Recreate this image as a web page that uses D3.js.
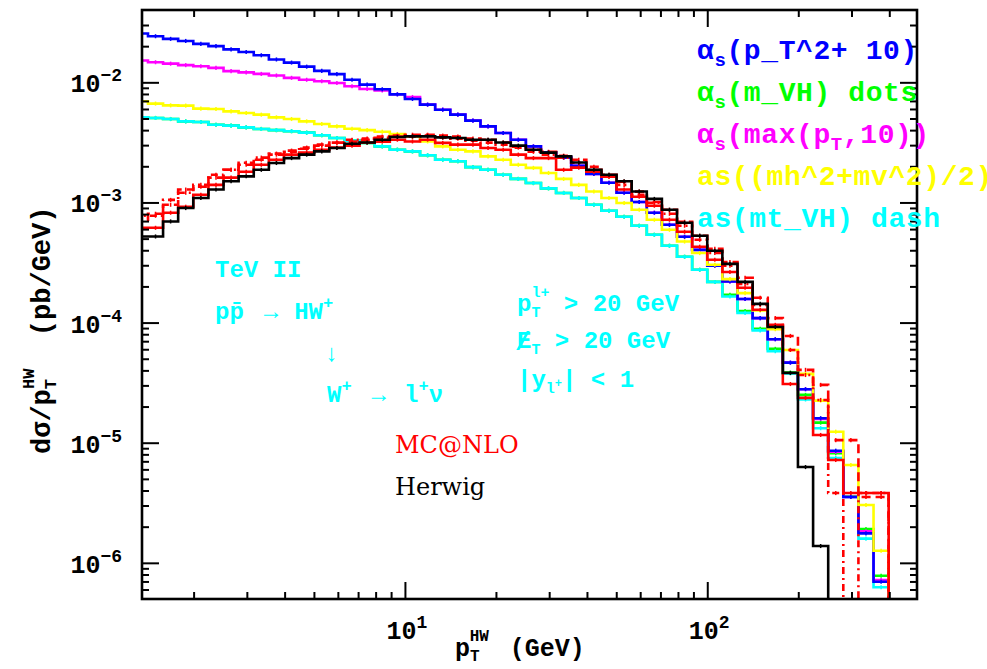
<!DOCTYPE html>
<html>
<head>
<meta charset="utf-8">
<script src="https://cdn.jsdelivr.net/npm/d3@7/dist/d3.min.js"></script>
<style>
    body { margin: 0; background: #fff; }
    svg text { font-family: 'Liberation Mono', 'DejaVu Sans Mono', monospace; }
</style>
</head>
<body>
<div id="chart"></div>
<script>
// bin edges of the pT(HW) histogram (GeV)
const binEdges = [1.259, 1.413, 1.585, 1.778, 1.995, 2.239, 2.512, 2.818, 3.162, 3.548,
    3.981, 4.467, 5.012, 5.623, 6.310, 7.079, 7.943, 8.913, 10.00, 11.22,
    12.59, 14.13, 15.85, 17.78, 19.95, 22.39, 25.12, 28.18, 31.62, 35.48,
    39.81, 44.67, 50.12, 56.23, 63.10, 70.79, 79.43, 89.13, 100.0, 112.2,
    125.9, 141.3, 158.5, 177.8, 199.5, 223.9, 251.2, 281.8, 316.2, 354.8, 398.1];

// dsigma/dpT (pb/GeV), one value per bin, null = empty bin
const asPt2Plus10 = [2.55e-2, 2.42e-2, 2.30e-2, 2.21e-2, 2.09e-2, 2.00e-2, 1.88e-2, 1.79e-2, 1.68e-2, 1.55e-2,
    1.46e-2, 1.35e-2, 1.245e-2, 1.17e-2, 1.05e-2, 9.57e-3, 8.75e-3, 7.94e-3, 7.27e-3, 6.52e-3,
    5.92e-3, 5.38e-3, 4.80e-3, 4.30e-3, 3.79e-3, 3.33e-3, 2.93e-3, 2.62e-3, 2.36e-3, 2.02e-3,
    1.73e-3, 1.46e-3, 1.205e-3, 1.01e-3, 8.21e-4, 6.52e-4, 5.18e-4, 4.03e-4, 2.97e-4, 2.20e-4,
    1.57e-4, 1.09e-4, 7.27e-5, 4.64e-5, 2.79e-5, 1.60e-5, 8.58e-6, 3.53e-6, 1.76e-6, 6.95e-7];

const asMVH = [5.11e-3, 5.05e-3, 4.95e-3, 4.73e-3, 4.68e-3, 4.44e-3, 4.36e-3, 4.22e-3, 4.09e-3, 4.00e-3,
    3.92e-3, 3.81e-3, 3.63e-3, 3.44e-3, 3.27e-3, 3.13e-3, 2.93e-3, 2.75e-3, 2.66e-3, 2.47e-3,
    2.27e-3, 2.20e-3, 1.97e-3, 1.87e-3, 1.70e-3, 1.57e-3, 1.45e-3, 1.31e-3, 1.20e-3, 1.09e-3,
    9.57e-4, 8.53e-4, 7.60e-4, 6.40e-4, 5.38e-4, 4.36e-4, 3.53e-4, 2.75e-4, 2.18e-4, 1.70e-4,
    1.25e-4, 8.86e-5, 6.04e-5, 3.83e-5, 2.50e-5, 1.47e-5, 8.17e-6, 3.56e-6, 1.91e-6, 7.80e-7];

const asMaxPt10 = [1.52e-2, 1.47e-2, 1.43e-2, 1.39e-2, 1.36e-2, 1.32e-2, 1.24e-2, 1.21e-2, 1.175e-2, 1.14e-2,
    1.09e-2, 1.05e-2, 1.02e-2, 9.88e-3, 9.27e-3, 8.81e-3, 8.55e-3, 7.95e-3, 7.55e-3, 6.52e-3,
    5.92e-3, 5.38e-3, 4.80e-3, 4.30e-3, 3.79e-3, 3.33e-3, 2.93e-3, 2.62e-3, 2.36e-3, 2.02e-3,
    1.73e-3, 1.46e-3, 1.205e-3, 1.01e-3, 8.21e-4, 6.52e-4, 5.18e-4, 4.03e-4, 2.97e-4, 2.20e-4,
    1.57e-4, 1.09e-4, 7.27e-5, 4.64e-5, 2.79e-5, 1.58e-5, 8.40e-6, 3.53e-6, 1.83e-6, 7.2e-7];

const asMhMv = [6.95e-3, 6.65e-3, 6.43e-3, 6.40e-3, 6.04e-3, 6.00e-3, 5.73e-3, 5.56e-3, 5.38e-3, 5.11e-3,
    4.95e-3, 4.73e-3, 4.50e-3, 4.30e-3, 4.11e-3, 4.00e-3, 3.88e-3, 3.715e-3, 3.55e-3, 3.22e-3,
    2.93e-3, 2.75e-3, 2.66e-3, 2.42e-3, 2.27e-3, 2.06e-3, 1.94e-3, 1.76e-3, 1.57e-3, 1.40e-3,
    1.235e-3, 1.09e-3, 9.89e-4, 8.69e-4, 7.18e-4, 5.92e-4, 4.73e-4, 3.79e-4, 3.03e-4, 2.30e-4,
    1.76e-4, 1.26e-4, 8.81e-5, 5.92e-5, 3.74e-5, 2.24e-5, 1.235e-5, 6.52e-6, 3.03e-6, 1.26e-6];

const asMtVH = [5.11e-3, 5.05e-3, 4.95e-3, 4.73e-3, 4.68e-3, 4.44e-3, 4.36e-3, 4.22e-3, 4.09e-3, 4.00e-3,
    3.92e-3, 3.81e-3, 3.63e-3, 3.44e-3, 3.27e-3, 3.13e-3, 2.93e-3, 2.75e-3, 2.66e-3, 2.47e-3,
    2.27e-3, 2.20e-3, 1.97e-3, 1.87e-3, 1.70e-3, 1.57e-3, 1.45e-3, 1.31e-3, 1.20e-3, 1.09e-3,
    9.57e-4, 8.53e-4, 7.60e-4, 6.40e-4, 5.38e-4, 4.36e-4, 3.53e-4, 2.75e-4, 2.18e-4, 1.65e-4,
    1.205e-4, 8.61e-5, 5.78e-5, 3.78e-5, 2.29e-5, 1.32e-5, 7.46e-6, 3.53e-6, 1.59e-6, 6.27e-7];

const mcnloSolid = [6.15e-4, 6.15e-4, 8.21e-4, 9.21e-4, 1.16e-3, 1.40e-3, 1.61e-3, 1.80e-3, 2.06e-3, 2.27e-3,
    2.50e-3, 2.60e-3, 2.75e-3, 2.86e-3, 2.97e-3, 3.15e-3, 3.21e-3, 3.33e-3, 3.22e-3, 3.33e-3,
    3.13e-3, 3.03e-3, 3.03e-3, 2.84e-3, 2.75e-3, 2.50e-3, 2.34e-3, 2.34e-3, 1.87e-3, 1.95e-3,
    1.80e-3, 1.64e-3, 1.28e-3, 1.115e-3, 9.39e-4, 7.18e-4, 5.70e-4, 4.28e-4, 3.33e-4, 2.64e-4,
    1.95e-4, 1.28e-4, 9.57e-5, 3.08e-5, 2.36e-5, 1.16e-5, 7.18e-6, 3.81e-6, 3.81e-6, 3.81e-6];

const mcnloDashed = [7.18e-4, 8.05e-4, 9.57e-4, 1.28e-3, 1.35e-3, 1.61e-3, 1.87e-3, 2.06e-3, 2.27e-3, 2.50e-3,
    2.70e-3, 2.80e-3, 2.97e-3, 3.15e-3, 3.21e-3, 3.33e-3, 3.46e-3, 3.53e-3, 3.66e-3, 3.66e-3,
    3.60e-3, 3.53e-3, 3.40e-3, 3.33e-3, 3.15e-3, 2.91e-3, 2.75e-3, 2.64e-3, 2.45e-3, 2.27e-3,
    1.98e-3, 1.70e-3, 1.49e-3, 1.23e-3, 1.01e-3, 8.69e-4, 6.90e-4, 5.28e-4, 4.11e-4, 3.19e-4,
    2.36e-4, 1.61e-4, 1.09e-4, 7.74e-5, 4.04e-5, 3.03e-5, 1.05e-5, 1.05e-5, 3.53e-6, 3.53e-6];

const mcnloDotDash = [7.75e-4, 7.75e-4, 1.05e-3, 1.205e-3, 1.40e-3, 1.70e-3, 1.87e-3, 2.14e-3, 2.36e-3, 2.55e-3,
    2.64e-3, 2.86e-3, 3.03e-3, 3.15e-3, 3.33e-3, 3.40e-3, 3.53e-3, 3.60e-3, 3.53e-3, 3.60e-3,
    3.46e-3, 3.40e-3, 3.27e-3, 3.15e-3, 3.03e-3, 2.86e-3, 2.64e-3, 2.50e-3, 2.36e-3, 2.14e-3,
    1.87e-3, 1.64e-3, 1.40e-3, 1.16e-3, 9.94e-4, 8.05e-4, 6.40e-4, 4.89e-4, 3.79e-4, 2.97e-4,
    2.10e-4, 1.40e-4, 9.39e-5, 5.92e-5, 3.66e-5, 2.27e-5, 3.81e-6, null, 3.81e-6, 3.81e-6];

const herwig = [5.21e-4, 5.21e-4, 6.95e-4, 8.98e-4, 1.09e-3, 1.28e-3, 1.50e-3, 1.65e-3, 1.87e-3, 2.13e-3,
    2.34e-3, 2.50e-3, 2.66e-3, 2.84e-3, 3.08e-3, 3.16e-3, 3.33e-3, 3.51e-3, 3.55e-3, 3.55e-3,
    3.48e-3, 3.44e-3, 3.33e-3, 3.33e-3, 3.16e-3, 2.97e-3, 2.75e-3, 2.60e-3, 2.42e-3, 2.15e-3,
    1.87e-3, 1.70e-3, 1.50e-3, 1.235e-3, 1.07e-3, 8.69e-4, 6.78e-4, 5.28e-4, 3.96e-4, 3.08e-4,
    2.18e-4, 1.43e-4, 9.20e-5, 3.81e-5, 6.27e-6, 1.38e-6];

// axis ticks
const xMajorTicks = [10, 100];
const xMinorTicks = [2, 3, 4, 5, 6, 7, 8, 9, 20, 30, 40, 50, 60, 70, 80, 90, 200, 300, 400];
const yMajorTicks = [1e-6, 1e-5, 1e-4, 1e-3, 1e-2];
const yMinorTicks = [6e-7, 7e-7, 8e-7, 9e-7, 2e-6, 3e-6, 4e-6, 5e-6, 6e-6, 7e-6, 8e-6, 9e-6,
    2e-5, 3e-5, 4e-5, 5e-5, 6e-5, 7e-5, 8e-5, 9e-5, 2e-4, 3e-4, 4e-4, 5e-4, 6e-4, 7e-4, 8e-4, 9e-4,
    2e-3, 3e-3, 4e-3, 5e-3, 6e-3, 7e-3, 8e-3, 9e-3, 2e-2, 3e-2];
const xTickExponents = ['1', '2'];
const yTickExponents = ['\u22126', '\u22125', '\u22124', '\u22123', '\u22122'];

const margin = { top: 10, right: 70, bottom: 70, left: 142 };
const width = 987 - margin.left - margin.right;
const height = 669 - margin.top - margin.bottom;

const svg = d3.select('#chart')
    .append('svg')
    .attr('width', 987)
    .attr('height', 669);

const x = d3.scaleLog().domain([1.35, 494]).range([0, width]);
const y = d3.scaleLog().domain([5e-7, 0.04]).range([height, 0]);

svg.append('defs')
    .append('clipPath')
    .attr('id', 'plotClip')
    .append('rect')
    .attr('width', width)
    .attr('height', height);

const plot = svg.append('g')
    .attr('transform', `translate(${margin.left},${margin.top})`);

const curves = plot.append('g').attr('clip-path', 'url(#plotClip)');

const histSeries = [
    { values: asMVH, color: '#00ff00', dash: null },
    { values: asMtVH, color: '#00ffff', dash: null },
    { values: asMaxPt10, color: '#ff00ff', dash: null },
    { values: asPt2Plus10, color: '#0000ff', dash: null },
    { values: asMhMv, color: '#ffff00', dash: null },
    { values: mcnloDotDash, color: '#ff0000', dash: '7,4,2,4' },
    { values: mcnloDashed, color: '#ff0000', dash: '9,5' },
    { values: mcnloSolid, color: '#ff0000', dash: null },
    { values: herwig, color: '#000000', dash: null }
];

const stepLine = d3.line()
    .x(d => x(d.x))
    .y(d => d.v == null ? height + 10 : y(d.v))
    .curve(d3.curveStepAfter);

histSeries.forEach(s => {
    const pts = s.values.map((v, i) => ({ x: binEdges[i], v: v }));
    pts.push({ x: binEdges[s.values.length], v: null });

    curves.append('path')
        .attr('d', stepLine(pts))
        .attr('fill', 'none')
        .attr('stroke', s.color)
        .attr('stroke-width', 2.6)
        .attr('stroke-dasharray', s.dash);

    // small error ticks at bin centres
    curves.selectAll(null)
        .data(s.values.map((v, i) => ({ v: v, c: Math.sqrt(binEdges[i] * binEdges[i + 1]) }))
            .filter(d => d.v != null))
        .enter()
        .append('line')
        .attr('x1', d => x(d.c))
        .attr('x2', d => x(d.c))
        .attr('y1', d => y(d.v * 1.04))
        .attr('y2', d => y(d.v / 1.04))
        .attr('stroke', s.color)
        .attr('stroke-width', 1.5);
});

// ticks on all four sides, pointing inwards
function drawTicks(axisFn, values, size, transform) {
    const g = plot.append('g')
        .attr('transform', transform)
        .call(axisFn.tickValues(values).tickSize(-size).tickFormat(''));
    g.select('.domain').remove();
    g.selectAll('line').attr('stroke', '#000').attr('stroke-width', 2);
}

drawTicks(d3.axisBottom(x), xMajorTicks, 17, `translate(0,${height})`);
drawTicks(d3.axisBottom(x), xMinorTicks, 7, `translate(0,${height})`);
drawTicks(d3.axisTop(x), xMajorTicks, 17, 'translate(0,0)');
drawTicks(d3.axisTop(x), xMinorTicks, 7, 'translate(0,0)');
drawTicks(d3.axisLeft(y), yMajorTicks, 17, 'translate(0,0)');
drawTicks(d3.axisLeft(y), yMinorTicks, 7, 'translate(0,0)');
drawTicks(d3.axisRight(y), yMajorTicks, 17, `translate(${width},0)`);
drawTicks(d3.axisRight(y), yMinorTicks, 7, `translate(${width},0)`);

plot.append('rect')
    .attr('width', width)
    .attr('height', height)
    .attr('fill', 'none')
    .attr('stroke', '#000')
    .attr('stroke-width', 2.6);

// tick labels
yMajorTicks.forEach((t, i) => {
    const lbl = plot.append('text')
        .attr('x', -20)
        .attr('y', y(t) + 10)
        .attr('text-anchor', 'end')
        .attr('font-size', 25)
        .attr('font-weight', 'bold')
        .text('10');
    lbl.append('tspan')
        .attr('font-size', 18)
        .attr('dy', -11)
        .text(yTickExponents[i]);
});

xMajorTicks.forEach((t, i) => {
    const lbl = plot.append('text')
        .attr('x', x(t) + 2)
        .attr('y', height + 40)
        .attr('text-anchor', 'middle')
        .attr('font-size', 25)
        .attr('font-weight', 'bold')
        .text('10');
    lbl.append('tspan')
        .attr('font-size', 18)
        .attr('dy', -11)
        .text(xTickExponents[i]);
});

// axis titles
const xTitle = svg.append('text')
    .attr('x', 455)
    .attr('y', 656)
    .attr('font-size', 25)
    .attr('font-weight', 'bold')
    .text('p');
xTitle.append('tspan').attr('font-size', 16).attr('dy', 5).text('T');
xTitle.append('tspan').attr('font-size', 16).attr('dx', -10).attr('dy', -20).text('HW');
xTitle.append('tspan').attr('dx', 6).attr('dy', 15).text(' (GeV)');

const yTitle = svg.append('text')
    .attr('transform', 'translate(50,454) rotate(-90)')
    .attr('font-size', 27)
    .attr('font-weight', 'bold')
    .text('d\u03c3/p');
yTitle.append('tspan').attr('font-size', 17).attr('dy', 6).text('T');
yTitle.append('tspan').attr('font-size', 17).attr('dx', -10).attr('dy', -22).text('HW');
yTitle.append('tspan').attr('dy', 16).text('\u00a0\u00a0(pb/GeV)');

// legend of scale choices
function legendLine(yPos, color, parts) {
    const t = svg.append('text')
        .attr('x', 697)
        .attr('y', yPos)
        .attr('font-size', 28)
        .attr('font-weight', 'bold')
        .attr('letter-spacing', 0.6)
        .attr('fill', color);
    parts.forEach(p => {
        const ts = t.append('tspan').text(p.t);
        if (p.sub) ts.attr('font-size', 19).attr('dy', 7);
        if (p.back) ts.attr('dy', -7);
    });
}

legendLine(59, '#0000ff', [{ t: '\u03b1' }, { t: 's', sub: true }, { t: '(p_T^2+ 10)', back: true }]);
legendLine(101, '#00ff00', [{ t: '\u03b1' }, { t: 's', sub: true }, { t: '(m_VH) dots', back: true }]);
legendLine(143, '#ff00ff', [{ t: '\u03b1' }, { t: 's', sub: true }, { t: '(max(p', back: true },
    { t: 'T', sub: true }, { t: ',10))', back: true }]);
legendLine(185, '#ffff00', [{ t: 'as((mh^2+mv^2)/2)' }]);
legendLine(227, '#00ffff', [{ t: 'as(mt_VH) dash' }]);

// process annotations
const cyan = '#00ffff';
function note(xPos, yPos, color, size, parts, family) {
    const t = svg.append('text')
        .attr('x', xPos)
        .attr('y', yPos)
        .attr('font-size', size)
        .attr('font-weight', family ? 'normal' : 'bold')
        .attr('fill', color);
    if (family) t.style('font-family', family);
    parts.forEach(p => {
        const ts = t.append('tspan').text(p.t);
        if (p.dx) ts.attr('dx', p.dx);
        if (p.dy) ts.attr('dy', p.dy);
        if (p.fs) ts.attr('font-size', p.fs);
    });
    return t;
}

note(215, 277, cyan, 24, [{ t: 'TeV II' }]);
note(215, 319, cyan, 24, [{ t: 'pp\u0304' }, { t: '\u2192', dx: 20 }, { t: 'HW', dx: 16 },
    { t: '+', fs: 17, dy: -11 }]);
note(324, 361, cyan, 24, [{ t: '\u2193' }]);
note(327, 402, cyan, 24, [{ t: 'W' }, { t: '+', fs: 17, dy: -11 }, { t: '\u2192', dx: 20, dy: 11 },
    { t: 'l', dx: 18 }, { t: '+', fs: 17, dy: -11 }, { t: '\u03bd', dy: 11 }]);
note(395, 453, '#ff0000', 24, [{ t: 'MC@NLO' }], "'DejaVu Serif', serif");
note(395, 495, '#000000', 24, [{ t: 'Herwig' }], "'DejaVu Serif', serif");

note(517, 311, cyan, 24, [{ t: 'p' }, { t: 'T', fs: 15, dy: 6 }, { t: 'l+', fs: 15, dx: -9, dy: -20 },
    { t: ' > 20 GeV', dy: 14 }]);
note(517, 348, cyan, 24, [{ t: 'E' }, { t: 'T', fs: 15, dy: 6 }, { t: ' > 20 GeV', dy: -6 }]);
note(515, 350, cyan, 26, [{ t: '/' }]);
note(517, 387, cyan, 24, [{ t: '|y' }, { t: 'l', fs: 15, dy: 6 }, { t: '+', fs: 12, dy: -6 },
    { t: '| < 1', dy: 0 }]);
</script>
</body>
</html>
